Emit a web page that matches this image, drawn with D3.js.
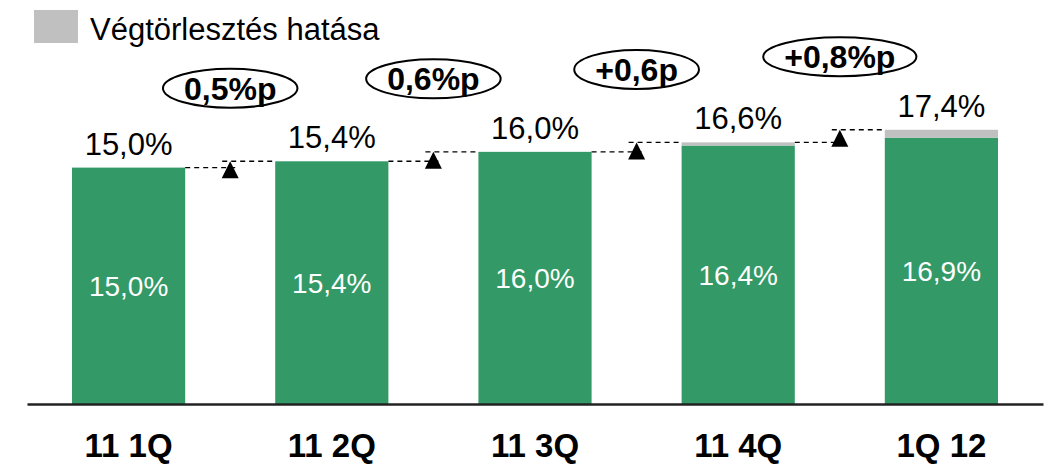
<!DOCTYPE html>
<html>
<head>
<meta charset="utf-8">
<script src="https://cdn.jsdelivr.net/npm/d3@7"></script>
<style>
  html, body { margin: 0; padding: 0; background: #ffffff; }
  svg { display: block; font-family: "Liberation Sans", Arial, sans-serif; }
</style>
</head>
<body>
<svg id="chart" width="1047" height="464"></svg>
<script>
// Quarterly ratio: base level plus the effect of early repayment
const categories = ["11 1Q", "11 2Q", "11 3Q", "11 4Q", "1Q 12"];
const baseValues = [15.0, 15.4, 16.0, 16.4, 16.9];
const repaymentImpact = [0.0, 0.0, 0.0, 0.2, 0.5];
const changeLabels = ["0,5%p", "0,6%p", "+0,6p", "+0,8%p"];
const legendLabel = "Végtörlesztés hatása";

const totals = baseValues.map((v, i) => v + repaymentImpact[i]);
const fmt = v => d3.format(".1f")(v).replace(".", ",") + "%";

const green = "#339966";
const grey = "#c0c0c0";

const svg = d3.select("#chart");

const x = d3.scaleBand()
  .domain(categories)
  .range([27, 1043])
  .paddingInner(0.443)
  .paddingOuter(0.2215);

const y = d3.scaleLinear()
  .domain([0, 25])
  .range([404, 10]);

// Legend
const legend = svg.append("g");
legend.append("rect")
  .attr("x", 34).attr("y", 10).attr("width", 44).attr("height", 33)
  .attr("fill", grey);
legend.append("text")
  .attr("x", 90).attr("y", 40)
  .attr("font-size", 31)
  .attr("fill", "#000")
  .text(legendLabel);

// Base (green) segments
svg.append("g").selectAll("rect")
  .data(categories)
  .join("rect")
  .attr("x", d => x(d))
  .attr("width", x.bandwidth())
  .attr("y", (d, i) => y(baseValues[i]))
  .attr("height", (d, i) => y(0) - y(baseValues[i]))
  .attr("fill", green);

// Repayment impact (grey) segments
svg.append("g").selectAll("rect")
  .data(categories)
  .join("rect")
  .attr("x", d => x(d))
  .attr("width", x.bandwidth())
  .attr("y", (d, i) => y(totals[i]))
  .attr("height", (d, i) => y(baseValues[i]) - y(totals[i]))
  .attr("fill", grey);

// Labels inside the green segments
svg.append("g").selectAll("text")
  .data(categories)
  .join("text")
  .attr("x", d => x(d) + x.bandwidth() / 2)
  .attr("y", (d, i) => (y(baseValues[i]) + y(0)) / 2)
  .attr("dy", "0.36em")
  .attr("text-anchor", "middle")
  .attr("font-size", 28)
  .attr("fill", "#ffffff")
  .text((d, i) => fmt(baseValues[i]));

// Total labels above the bars
svg.append("g").selectAll("text")
  .data(categories)
  .join("text")
  .attr("x", d => x(d) + x.bandwidth() / 2)
  .attr("y", (d, i) => y(totals[i]) - 13)
  .attr("text-anchor", "middle")
  .attr("font-size", 31)
  .attr("fill", "#000")
  .text((d, i) => fmt(totals[i]));

// Step connectors between neighbouring bars
const steps = changeLabels.map((label, i) => ({
  label,
  x0: x(categories[i]) + x.bandwidth(),
  x1: x(categories[i + 1]),
  cx: (x(categories[i]) + x.bandwidth() + x(categories[i + 1])) / 2,
  yLow: y(totals[i]),
  yHigh: y(totals[i + 1])
}));

const conn = svg.append("g");
const stepG = conn.selectAll("g").data(steps).join("g");

stepG.append("line")
  .attr("x1", d => d.x0).attr("x2", d => d.cx + 8)
  .attr("y1", d => d.yLow).attr("y2", d => d.yLow)
  .attr("stroke", "#000").attr("stroke-width", 1.4)
  .attr("stroke-dasharray", "5,4");

stepG.append("line")
  .attr("x1", d => d.cx - 8).attr("x2", d => d.x1)
  .attr("y1", d => d.yHigh).attr("y2", d => d.yHigh)
  .attr("stroke", "#000").attr("stroke-width", 1.4)
  .attr("stroke-dasharray", "5,4");

stepG.append("path")
  .attr("d", d => `M${d.cx},${d.yHigh} L${d.cx + 8.5},${d.yHigh + 17} L${d.cx - 8.5},${d.yHigh + 17} Z`)
  .attr("fill", "#000");

// Change bubbles
const bubble = stepG.append("g")
  .attr("transform", d => `translate(${d.cx},${d.yHigh - 73})`);

bubble.append("text")
  .attr("text-anchor", "middle")
  .attr("dy", "0.36em")
  .attr("font-size", 32)
  .attr("font-weight", "bold")
  .attr("fill", "#000")
  .text(d => d.label);

bubble.insert("ellipse", "text")
  .attr("cx", 0).attr("cy", 0)
  .attr("rx", function () {
    const t = d3.select(this.parentNode).select("text").node();
    return t.getComputedTextLength() / 2 + 21;
  })
  .attr("ry", 19.5)
  .attr("fill", "#fff")
  .attr("stroke", "#000")
  .attr("stroke-width", 2);

// Category axis
const axis = svg.append("g")
  .attr("transform", `translate(0,${y(0)})`)
  .call(d3.axisBottom(x).tickSize(0).tickPadding(30));

axis.select(".domain")
  .attr("stroke", "#222")
  .attr("stroke-width", 2.5);

axis.selectAll(".tick text")
  .attr("font-size", 33)
  .attr("font-weight", "bold")
  .attr("font-family", "'Liberation Sans', Arial, sans-serif")
  .attr("fill", "#000");
</script>
</body>
</html>
